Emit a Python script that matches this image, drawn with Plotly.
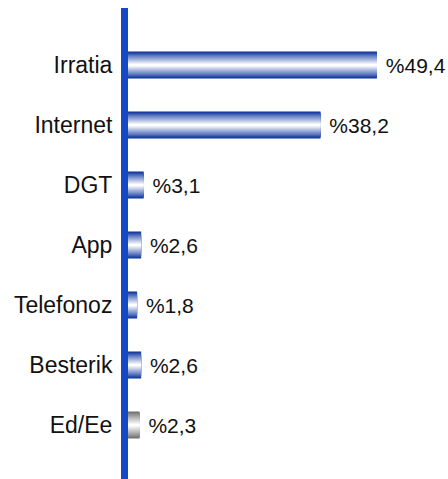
import plotly.graph_objects as go

categories = ["Irratia", "Internet", "DGT", "App", "Telefonoz", "Besterik", "Ed/Ee"]
values = [49.4, 38.2, 3.1, 2.6, 1.8, 2.6, 2.3]
labels = ["%" + f"{v:.1f}".replace(".", ",") for v in values]

dark_blue = (10, 50, 158)
dark_gray = (110, 110, 110)
edge_colors = [dark_blue] * 6 + [dark_gray]

N = 14
W = 0.45

def mix(c, t):
    return "rgb(%d,%d,%d)" % tuple(round(c[i] + (255 - c[i]) * t) for i in range(3))

fig = go.Figure()
for k in range(N):
    t = k / (N - 1)
    w = W * (1 - k / N)
    fig.add_trace(go.Bar(
        y=categories, x=values, orientation="h",
        width=w,
        marker=dict(color=[mix(c, t ** 0.9) for c in edge_colors], line=dict(width=0)),
        text=["\u00a0" + s for s in labels] if k == 0 else None,
        textposition="outside" if k == 0 else "none",
        textfont=dict(size=21, color="#111111", family="Arial, Liberation Sans"),
        cliponaxis=False,
        hoverinfo="skip",
        showlegend=False,
    ))

fig.update_layout(
    width=448, height=479,
    margin=dict(l=128, r=0, t=8, b=0),
    barmode="overlay",
    plot_bgcolor="white", paper_bgcolor="white",
    font=dict(family="Arial, Liberation Sans", size=21, color="#111111"),
    xaxis=dict(range=[0, 63.5], visible=False, showgrid=False, zeroline=False),
    yaxis=dict(
        type="category", categoryorder="array", categoryarray=categories,
        range=[6.9, -0.95],
        showline=True, linecolor="#1448c4", linewidth=7,
        ticks="", showgrid=False, zeroline=False,
        ticklabelstandoff=4,
        tickfont=dict(size=23, color="#111111"),
    ),
)

fig.write_html(
    "out.html",
    config={"displayModeBar": False},
    post_script="document.body.style.margin='0';document.body.style.overflow='hidden';",
)
